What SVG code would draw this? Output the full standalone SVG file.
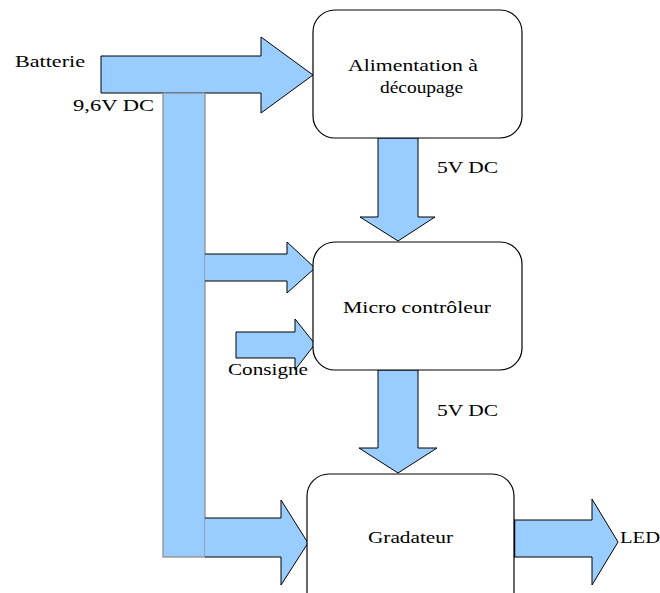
<svg xmlns="http://www.w3.org/2000/svg" width="660" height="593" viewBox="0 0 660 593">
<style>
.arr{fill:#99ccff;stroke:#000;stroke-width:1}
.bar{fill:#99ccff;stroke:#888;stroke-width:1.2}
.box{fill:#fff;stroke:#000;stroke-width:1.2}
</style>
<rect width="660" height="593" fill="#fff"/>
<g id="connectors">
<path class="arr" d="M101,56 H261 V37 L313,75 L261,113 V93 H101 Z"/>
<rect class="bar" x="163" y="93" width="42" height="464"/>
<path class="arr" d="M378,138 H418 V217 H435 L398,241 L360,217 H378 Z"/>
<path class="arr" d="M205,254 H287 V242 L315,268 L287,293 V281 H205"/>
<path class="arr" d="M236,332 H295 V319 L315,344 L295,370 V358 H236 Z"/>
<path class="arr" d="M378,370 H418 V448 H437 L398,473 L359,448 H378 Z"/>
<path class="arr" d="M205,518 H281 V500 L308,543 L281,585 V557 H205"/>
<path class="arr" d="M514,520 H592 V499 L618,542 L592,585 V557 H514 Z"/>
<line x1="514" y1="520" x2="514" y2="557" stroke="#000" stroke-width="2.5"/>
</g>
<g font-family="Liberation Serif, DejaVu Serif, serif" font-size="17" fill="#000">
<g id="alim">
<rect class="box" x="313" y="10" width="209" height="128" rx="22"/>
<text x="348" y="71" textLength="130" lengthAdjust="spacingAndGlyphs">Alimentation à</text>
<text x="380" y="93" textLength="83" lengthAdjust="spacingAndGlyphs">découpage</text>
</g>
<g id="micro">
<rect class="box" x="313" y="242" width="209" height="128" rx="22"/>
<text x="343" y="313" textLength="148" lengthAdjust="spacingAndGlyphs">Micro contrôleur</text>
</g>
<g id="gradateur">
<rect class="box" x="307" y="474" width="207" height="140" rx="22"/>
<text x="368" y="543" textLength="85" lengthAdjust="spacingAndGlyphs">Gradateur</text>
</g>
<g id="labels">
<text x="15" y="67" textLength="70" lengthAdjust="spacingAndGlyphs">Batterie</text>
<text x="73" y="111" textLength="81" lengthAdjust="spacingAndGlyphs">9,6V DC</text>
<text x="437" y="173" textLength="61" lengthAdjust="spacingAndGlyphs">5V DC</text>
<text x="228" y="375" textLength="80" lengthAdjust="spacingAndGlyphs">Consigne</text>
<text x="437" y="416" textLength="61" lengthAdjust="spacingAndGlyphs">5V DC</text>
<text x="620" y="543" textLength="40" lengthAdjust="spacingAndGlyphs">LED</text>
</g>
</g>
</svg>
